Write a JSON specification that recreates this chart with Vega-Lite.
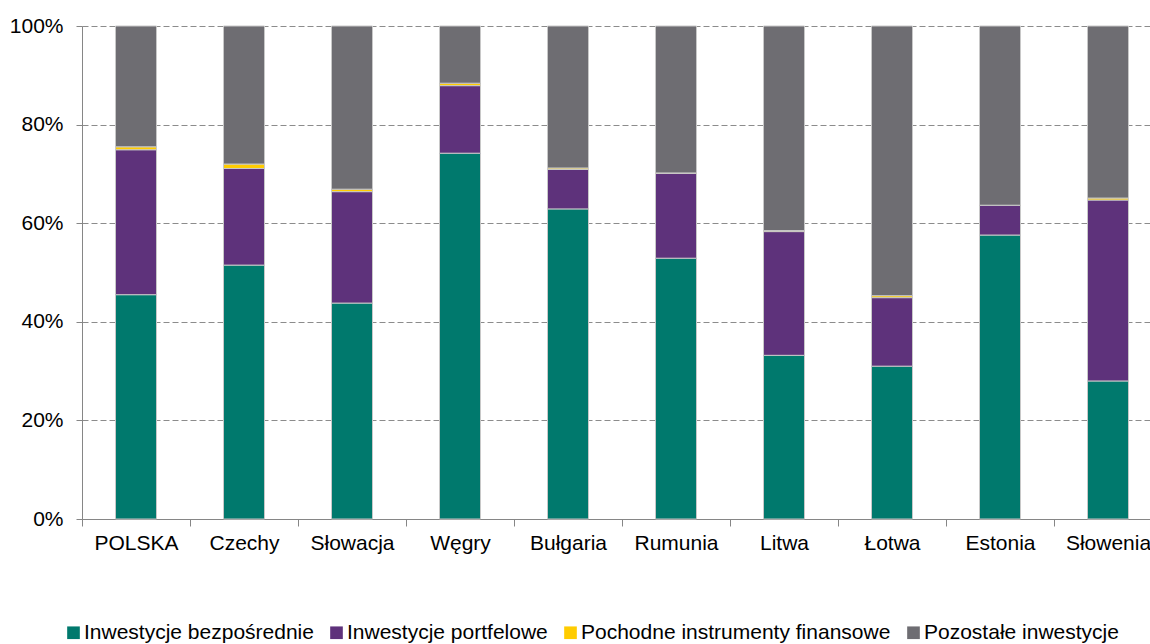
{
  "$schema": "https://vega.github.io/schema/vega-lite/v6.json",
  "width": 1080,
  "height": 493,
  "autosize": {"type": "none"},
  "padding": {"left": 82, "top": 26, "right": -12, "bottom": 125},
  "background": "white",
  "config": {"view": {"stroke": null}, "font": "Liberation Sans"},
  "data": {
    "values": [
      {"kraj": "POLSKA", "typ": "Inwestycje bezpośrednie", "k": 1, "v": 45.5},
      {"kraj": "POLSKA", "typ": "Inwestycje portfelowe", "k": 2, "v": 29.4},
      {"kraj": "POLSKA", "typ": "Pochodne instrumenty finansowe", "k": 3, "v": 0.6},
      {"kraj": "POLSKA", "typ": "Pozostałe inwestycje", "k": 4, "v": 24.5},
      {"kraj": "Czechy", "typ": "Inwestycje bezpośrednie", "k": 1, "v": 51.5},
      {"kraj": "Czechy", "typ": "Inwestycje portfelowe", "k": 2, "v": 19.6},
      {"kraj": "Czechy", "typ": "Pochodne instrumenty finansowe", "k": 3, "v": 0.9},
      {"kraj": "Czechy", "typ": "Pozostałe inwestycje", "k": 4, "v": 28.0},
      {"kraj": "Słowacja", "typ": "Inwestycje bezpośrednie", "k": 1, "v": 43.8},
      {"kraj": "Słowacja", "typ": "Inwestycje portfelowe", "k": 2, "v": 22.6},
      {"kraj": "Słowacja", "typ": "Pochodne instrumenty finansowe", "k": 3, "v": 0.5},
      {"kraj": "Słowacja", "typ": "Pozostałe inwestycje", "k": 4, "v": 33.1},
      {"kraj": "Węgry", "typ": "Inwestycje bezpośrednie", "k": 1, "v": 74.2},
      {"kraj": "Węgry", "typ": "Inwestycje portfelowe", "k": 2, "v": 13.7},
      {"kraj": "Węgry", "typ": "Pochodne instrumenty finansowe", "k": 3, "v": 0.5},
      {"kraj": "Węgry", "typ": "Pozostałe inwestycje", "k": 4, "v": 11.6},
      {"kraj": "Bułgaria", "typ": "Inwestycje bezpośrednie", "k": 1, "v": 62.9},
      {"kraj": "Bułgaria", "typ": "Inwestycje portfelowe", "k": 2, "v": 8.0},
      {"kraj": "Bułgaria", "typ": "Pochodne instrumenty finansowe", "k": 3, "v": 0.3},
      {"kraj": "Bułgaria", "typ": "Pozostałe inwestycje", "k": 4, "v": 28.8},
      {"kraj": "Rumunia", "typ": "Inwestycje bezpośrednie", "k": 1, "v": 52.9},
      {"kraj": "Rumunia", "typ": "Inwestycje portfelowe", "k": 2, "v": 17.2},
      {"kraj": "Rumunia", "typ": "Pochodne instrumenty finansowe", "k": 3, "v": 0.1},
      {"kraj": "Rumunia", "typ": "Pozostałe inwestycje", "k": 4, "v": 29.8},
      {"kraj": "Litwa", "typ": "Inwestycje bezpośrednie", "k": 1, "v": 33.2},
      {"kraj": "Litwa", "typ": "Inwestycje portfelowe", "k": 2, "v": 25.1},
      {"kraj": "Litwa", "typ": "Pochodne instrumenty finansowe", "k": 3, "v": 0.2},
      {"kraj": "Litwa", "typ": "Pozostałe inwestycje", "k": 4, "v": 41.5},
      {"kraj": "Łotwa", "typ": "Inwestycje bezpośrednie", "k": 1, "v": 31.0},
      {"kraj": "Łotwa", "typ": "Inwestycje portfelowe", "k": 2, "v": 13.9},
      {"kraj": "Łotwa", "typ": "Pochodne instrumenty finansowe", "k": 3, "v": 0.4},
      {"kraj": "Łotwa", "typ": "Pozostałe inwestycje", "k": 4, "v": 54.7},
      {"kraj": "Estonia", "typ": "Inwestycje bezpośrednie", "k": 1, "v": 57.6},
      {"kraj": "Estonia", "typ": "Inwestycje portfelowe", "k": 2, "v": 6.0},
      {"kraj": "Estonia", "typ": "Pochodne instrumenty finansowe", "k": 3, "v": 0.05},
      {"kraj": "Estonia", "typ": "Pozostałe inwestycje", "k": 4, "v": 36.35},
      {"kraj": "Słowenia", "typ": "Inwestycje bezpośrednie", "k": 1, "v": 28.0},
      {"kraj": "Słowenia", "typ": "Inwestycje portfelowe", "k": 2, "v": 36.7},
      {"kraj": "Słowenia", "typ": "Pochodne instrumenty finansowe", "k": 3, "v": 0.4},
      {"kraj": "Słowenia", "typ": "Pozostałe inwestycje", "k": 4, "v": 34.9}
    ]
  },
  "mark": {"type": "bar", "width": 41, "stroke": "#c8c8c8", "strokeWidth": 1},
  "encoding": {
    "x": {
      "field": "kraj",
      "type": "nominal",
      "sort": ["POLSKA", "Czechy", "Słowacja", "Węgry", "Bułgaria", "Rumunia", "Litwa", "Łotwa", "Estonia", "Słowenia"],
      "scale": {"paddingInner": 0, "paddingOuter": 0},
      "axis": {
        "title": null,
        "labelAngle": 0,
        "labelFontSize": 21,
        "labelColor": "#000000",
        "labelPadding": 6,
        "domainColor": "#868686",
        "tickColor": "#868686",
        "tickSize": 7,
        "tickBand": "extent",
        "grid": false
      }
    },
    "y": {
      "field": "v",
      "type": "quantitative",
      "stack": "normalize",
      "scale": {"domain": [0, 1]},
      "axis": {
        "title": null,
        "format": ".0%",
        "values": [0, 0.2, 0.4, 0.6, 0.8, 1],
        "labelFontSize": 21,
        "labelColor": "#000000",
        "labelPadding": 13,
        "tickSize": 6,
        "tickColor": "#868686",
        "domainColor": "#868686",
        "gridColor": "#8c8c8c",
        "gridDash": [6, 3],
        "gridWidth": 1
      }
    },
    "color": {
      "field": "typ",
      "type": "nominal",
      "scale": {
        "domain": ["Inwestycje bezpośrednie", "Inwestycje portfelowe", "Pochodne instrumenty finansowe", "Pozostałe inwestycje"],
        "range": ["#00796D", "#5E327B", "#FFCC00", "#6E6D72"]
      },
      "legend": {
        "title": null,
        "orient": "none",
        "direction": "horizontal",
        "legendX": -19,
        "legendY": 596,
        "padding": 0,
        "symbolType": "square",
        "symbolSize": 160,
        "symbolStrokeWidth": 0,
        "labelFontSize": 21,
        "labelLimit": 0,
        "labelColor": "#000000",
        "labelOffset": 0,
        "columnPadding": 12
      }
    },
    "order": {"field": "k", "type": "quantitative", "sort": "ascending"}
  }
}
